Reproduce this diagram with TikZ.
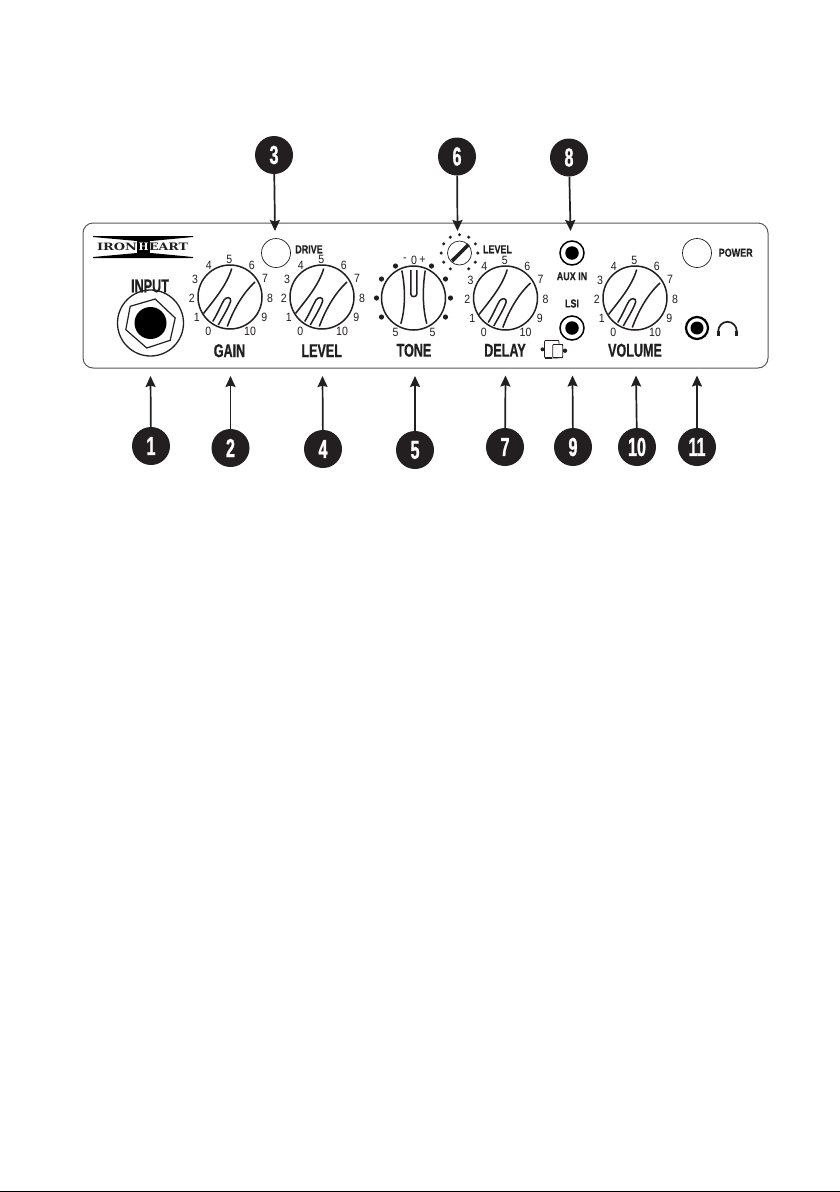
\documentclass[tikz,border=0pt]{standalone}
\usepackage{fontspec}
\usepackage{graphicx}
\usetikzlibrary{arrows.meta}
\setmainfont{Liberation Sans}
\newfontfamily\condb[FakeStretch=0.68,FakeBold=0.8]{Liberation Sans}
\newfontfamily\condc[FakeStretch=0.78,FakeBold=0.5]{Liberation Sans}
\newfontfamily\condn[FakeStretch=0.62,FakeBold=1.0]{Liberation Sans}
\newfontfamily\condd[FakeStretch=0.88]{Liberation Sans}
\newfontfamily\logofont{DejaVu Serif}
\definecolor{ink}{HTML}{231F20}
\definecolor{edge}{HTML}{58595B}
\tikzset{
  px/.style={x=1pt,y=-1pt},
  badge/.style={circle,fill=ink,draw=none,minimum size=38pt,inner sep=0pt,text=white,font=\condn\bfseries\fontsize{26}{26}\selectfont},
  arr/.style={draw=ink,line width=1.7pt,-{Stealth[length=11pt,width=10pt,inset=1.5pt]}},
  num/.style={inner sep=0pt,text=ink,font=\condd\fontsize{12}{12}\selectfont},
  biglabel/.style={inner sep=0pt,text=ink,font=\condb\bfseries\fontsize{18.5}{19}\selectfont},
  smalllabel/.style={inner sep=0pt,text=ink,font=\condc\bfseries\fontsize{11.5}{12}\selectfont},
  knobline/.style={draw=ink,line width=1.5pt},
  led/.style={circle,draw=ink,line width=0.7pt,fill=white,inner sep=0pt,minimum size=29pt},
  hole/.style={circle,fill=black,draw=none,inner sep=0pt},
  tick/.style={circle,fill=ink,draw=none,inner sep=0pt},
  dial/.pic={
    \node[circle,draw=ink,line width=1.5pt,minimum size=64pt,inner sep=0pt] (-c) at (0,0) {};
    \draw[knobline] (1.7,-28.5) .. controls (-3,-12) and (-16,3) .. (-26.5,16.5);
    \draw[knobline] (25,-15) .. controls (12,-3) and (3,14) .. (-2.7,29.5);
    \draw[knobline] (-17.3,24.5) .. controls (-12,16) and (-9,8) .. (-6,3)
       .. controls (-3.5,-0.5) and (1.2,0) .. (0.7,4)
       .. controls (-2,12) and (-8,21) .. (-11.7,28);
    \foreach \nn/\tx/\px/\py in {a/0/-21.7/34.5,b/1/-33.3/20,d/2/-38.3/1,e/3/-35/-18,f/4/-21.3/-31.7,g/5/-0.7/-37.3,h/6/21.7/-31.7,i/7/35/-19,j/8/40/1,k/9/34.3/20.3,l/10/20/34.5}
      \node[num] (-\nn) at (\px,\py) {\tx};
  },
  tonedial/.pic={
    \node[circle,draw=ink,line width=1.5pt,minimum size=64pt,inner sep=0pt] (-c) at (0,0) {};
    \draw[knobline] (-11.7,-27.5) .. controls (-8,-10) and (-8,10) .. (-12.7,25.7);
    \draw[knobline] (11.7,-27.5) .. controls (9,-10) and (9,10) .. (13.3,25.7);
    \draw[knobline] (-2.7,-28) -- (-2.7,-4) .. controls (-2.7,-0.5) and (3.3,-0.5) .. (3.3,-4) -- (3.3,-28);
    \foreach \nn/\px/\py in {a/-18/-32,b/-32/-19,d/-37/0,e/-32/19,f/18/-32,g/32/-19,h/37/0,i/32/19}
      \node[tick,minimum size=5.2pt] (-\nn) at (\px,\py) {};
  },
  jack/.pic={
    \node[circle,draw=black,line width=1.5pt,minimum size=24pt,inner sep=0pt] (-o) at (0,0) {};
    \node[hole,minimum size=13.5pt] (-i) at (0,0) {};
  }
}
\begin{document}
\begin{tikzpicture}[px]
\useasboundingbox (0,0) rectangle (840,1192);
\fill[white] (0,0) rectangle (840,1192);
\fill[black] (0,1190.6) rectangle (840,1192);
% panel
\node[draw=edge,line width=1pt,rounded corners=10pt,minimum width=685pt,minimum height=145pt,inner sep=0pt] (panel) at (425.5,295.5) {};
% logo
\fill[black] (93,236) -- (193,236) -- (193,237) -- (151,241) -- (137,241) -- (93,237) -- cycle;
\fill[black] (93,258) -- (193,258) -- (193,257) -- (151,253) -- (137,253) -- (93,257) -- cycle;
\node[inner sep=0pt,text=ink] (logoa) at (117,247) {\resizebox{40pt}{7.5pt}{\logofont\bfseries IRON}};
\node[fill=black,inner sep=0pt,minimum width=12.5pt,minimum height=12.5pt,text=white] (logob) at (143.5,247) {\resizebox{10pt}{7.5pt}{\logofont\bfseries H}};
\node[inner sep=0pt,text=ink] (logoc) at (168.5,247) {\resizebox{39pt}{7.5pt}{\logofont\bfseries EART}};
% input jack
\node[circle,draw=ink,line width=1.3pt,minimum size=66pt,inner sep=0pt] (inputring) at (150.5,323) {};
\coordinate (jc) at (150.5,323);
\draw[ink,line width=1.2pt] (jc) ++(4.7,-24) -- ++(20,19) -- ++(-5,22.3) -- ++(-23.4,7.7) -- ++(-21,-18.3) -- ++(4.4,-23.4) -- cycle;
\node[hole,minimum size=32pt] (inputhole) at (jc) {};
\node[biglabel] (inputlabel) at (150,286) {INPUT};
% dials
\pic (gain) at (230,297) {dial};
\pic (level) at (322,297) {dial};
\pic (tone) at (413.5,298) {tonedial};
\pic (delay) at (505.5,298) {dial};
\pic (volume) at (635,298) {dial};
\node[biglabel] (gainlabel) at (229.5,350.7) {GAIN};
\node[biglabel] (levellabel) at (321.7,350.7) {LEVEL};
\node[biglabel] (tonelabel) at (414,350.3) {TONE};
\node[biglabel] (delaylabel) at (505,350.3) {DELAY};
\node[biglabel] (volumelabel) at (635,350.3) {VOLUME};
\node[num] (toneminus) at (405,260) {-};
\node[num] (tonezero) at (414,260) {0};
\node[num] (toneplus) at (422.5,260) {+};
\node[num] (tonel) at (395.5,332) {5};
\node[num] (toner) at (432.5,332) {5};
% LEDs
\node[led] (drive) at (276,253) {};
\node[led] (power) at (697,253) {};
\node[smalllabel] (drivelabel) at (309,249.3) {DRIVE};
\node[smalllabel] (powerlabel) at (735.7,252.7) {POWER};
% small level knob
\node[circle,draw=ink,line width=0.7pt,minimum size=24pt,inner sep=0pt] (lev) at (459.5,253) {};
\draw[ink,line width=3.6pt] (452,261) -- (468.5,244.7);
\foreach \aa in {90,60,30,0,-30,-60,-120,-150,180,150,120}
  \fill[ink] (lev.center) ++({18.3*cos(\aa)},{-18.3*sin(\aa)}) circle[radius=1.7];
\node[smalllabel] (levlabel) at (497.5,249.3) {LEVEL};
% jacks
\pic (aux) at (572,253) {jack};
\pic (lsi) at (572,328) {jack};
\node[smalllabel] (auxlabel) at (572,276.3) {AUX IN};
\node[smalllabel] (lsilabel) at (572,303.5) {LSI};
\node[circle,draw=black,line width=2.2pt,minimum size=22pt,inner sep=0pt] (hpring) at (697,328) {};
\node[hole,minimum size=13pt] (hphole) at (697,328) {};
% headphones
\draw[ink,line width=1.7pt] (718.3,335) -- (718.3,331) arc[start angle=180,end angle=360,radius=9.2] -- (736.7,335);
\fill[ink] (716.7,330.5) rectangle (719.7,335.7);
\fill[ink] (735.3,330.5) rectangle (738.3,335.7);
% phones
\draw[ink,line width=0.6pt,rounded corners=1pt] (544.5,340.5) rectangle (559,358);
\draw[ink,line width=1.5pt] (544.5,340.5) -- (559,340.5);
\draw[ink,line width=1.5pt] (544.5,358) -- (552,358);
\draw[ink,line width=0.7pt,fill=white,rounded corners=1pt] (552.7,344.5) rectangle (562.7,357.7);
\draw[ink,line width=1.5pt] (552.7,344.5) -- (562.7,344.5) (552.7,357.7) -- (562.7,357.7);
\fill[ink] (542.5,349.3) circle[radius=2];
\fill[ink] (565,350.7) circle[radius=2.2];
% badges and arrows
\foreach \nm/\bx/\by/\tx/\ty in {1/151/446/150.5/376,2/230.5/448/230.5/376,4/323/449/322.5/376,5/415/450/415/376,7/505/447/505.5/375.5,9/573/447/572.5/375.5,10/637/447/636/375.5,11/697/447/697/375.5,3/274/155/275/231,6/457/156.5/457.5/231,8/569/157.5/570.5/231}{
  \node[badge] (b\nm) at (\bx,\by) {\nm};
  \coordinate (t\nm) at (\tx,\ty);
  \draw[arr] (b\nm) -- (t\nm);
}
\end{tikzpicture}
\end{document}
